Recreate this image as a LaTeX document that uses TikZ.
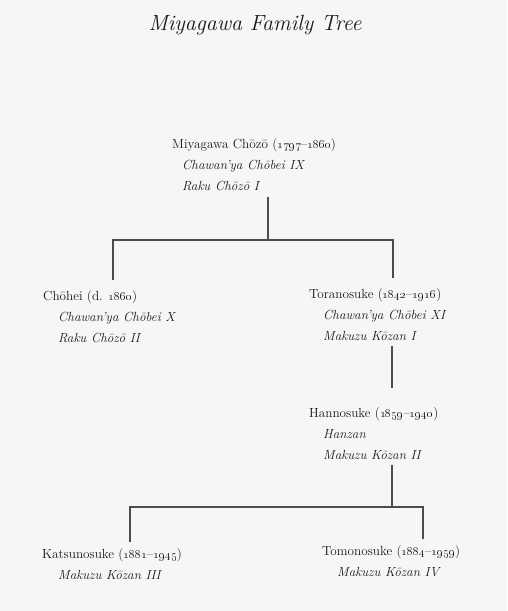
\documentclass[tikz,border=0pt]{standalone}
\usepackage{xcolor}
\usepackage{tikz}
\usetikzlibrary{positioning,calc}

\definecolor{ink}{gray}{0.1}
\definecolor{paper}{gray}{0.965}
\newcommand{\artname}[2][14pt]{\hspace*{#1}\textit{#2}}

\begin{document}
\begin{tikzpicture}[
    x=1pt, y=-1pt,
    heading/.style={anchor=base, inner sep=0pt, text=ink, font=\fontsize{22}{26}\selectfont\itshape},
    person/.style={anchor=north west, align=left, inner xsep=0pt, inner ysep=6pt, text=ink, font=\fontsize{13.2}{21}\selectfont},
    link/.style={draw=black!70, line width=1.1pt}
]
    \fill [paper] (0,0) rectangle (507,611);
    \useasboundingbox (0,0) rectangle (507,611);

    \node [heading] (heading) at (255,30) {Miyagawa Family Tree};

    \node [person] (choozoo) at (172,132) {Miyagawa Chōzō (\oldstylenums{1797}--\oldstylenums{1860})\\ \artname[10pt]{Chawan'ya Chōbei IX}\\ \artname[10pt]{Raku Chōzō I}};
    \node [person] (choohei) at (43,284) {Chōhei (d. \oldstylenums{1860})\\ \artname[15pt]{Chawan'ya Chōbei X}\\ \artname[15pt]{Raku Chōzō II}};
    \node [person] (torano) at (309,282) {Toranosuke (\oldstylenums{1842}--\oldstylenums{1916})\\ \artname{Chawan'ya Chōbei XI}\\ \artname{Makuzu Kōzan I}};
    \node [person] (hanno) at (309,401) {Hannosuke (\oldstylenums{1859}--\oldstylenums{1940})\\ \artname{Hanzan}\\ \artname{Makuzu Kōzan II}};
    \node [person] (katsuno) at (42,542) {Katsunosuke (\oldstylenums{1881}--\oldstylenums{1945})\\ \artname[16pt]{Makuzu Kōzan III}};
    \node [person] (tomono) at (322,539) {Tomonosuke (\oldstylenums{1884}--\oldstylenums{1959})\\ \artname[15pt]{Makuzu Kōzan IV}};

    % forks of the tree
    \coordinate (fork1) at (268,240);
    \coordinate (fork1w) at (113,240);
    \coordinate (fork1e) at (393,240);
    \coordinate (fork2) at (392,507);
    \coordinate (fork2w) at (130,507);
    \coordinate (fork2e) at (423,507);

    \draw [link] (choozoo.south -| fork1) -- (fork1);
    \draw [link] ([yshift=4pt]fork1w |- choohei.north) -- (fork1w) -- (fork1e) -- ([yshift=4pt]fork1e |- torano.north);
    \draw [link] (fork2 |- torano.south) -- ([yshift=13pt]fork2 |- hanno.north);
    \draw [link] (fork2 |- hanno.south) -- (fork2);
    \draw [link] (fork2w |- katsuno.north) -- (fork2w) -- (fork2e) -- (fork2e |- tomono.north);
\end{tikzpicture}
\end{document}
